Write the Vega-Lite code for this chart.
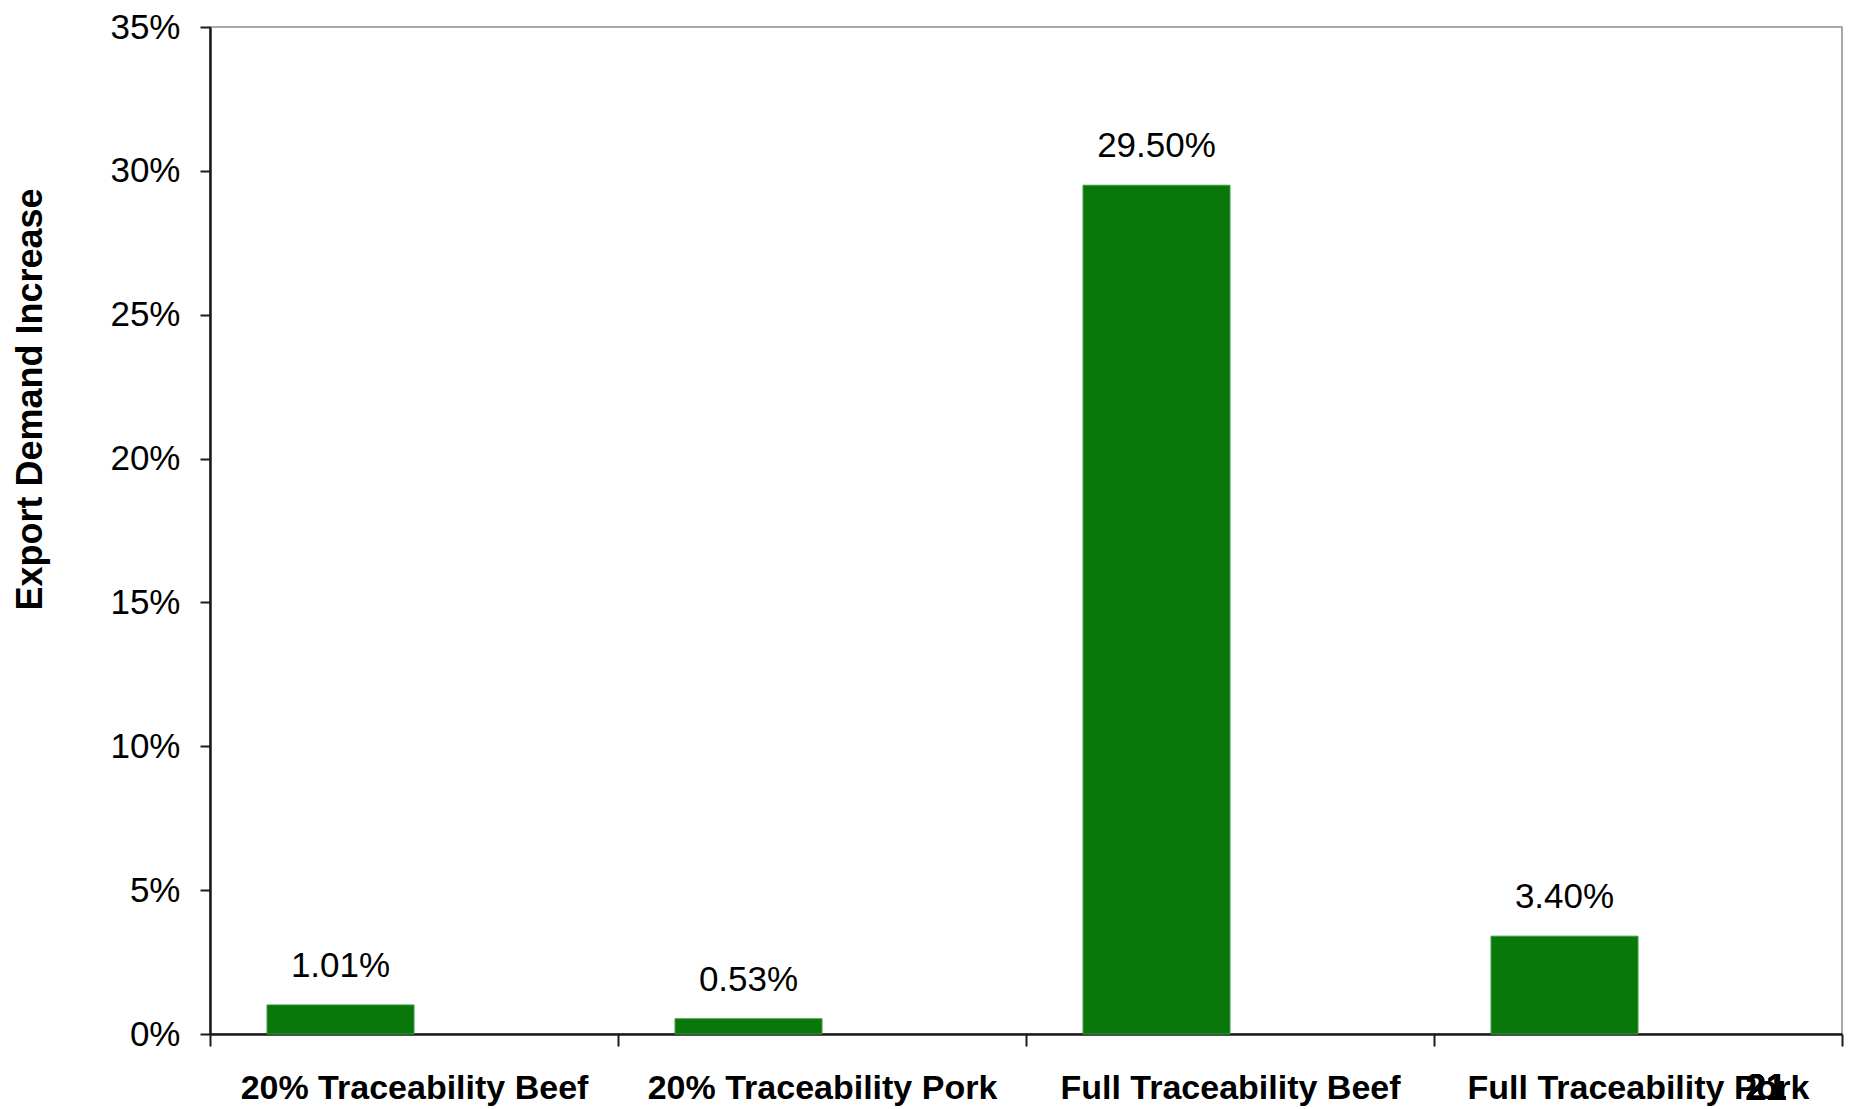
{
  "$schema": "https://vega.github.io/schema/vega-lite/v6.json",
  "width": 1632,
  "height": 1007,
  "autosize": {"type": "none"},
  "padding": {"left": 210, "top": 27, "right": 7, "bottom": 75},
  "background": "white",
  "config": {
    "font": "Liberation Sans",
    "view": {"stroke": "#8c8c8c", "strokeWidth": 1.5}
  },
  "data": {
    "values": [
      {"scenario": "20% Traceability Beef", "increase": 0.0101, "series": "a"},
      {"scenario": "20% Traceability Pork", "increase": 0.0053, "series": "a"},
      {"scenario": "Full Traceability Beef", "increase": 0.295, "series": "a"},
      {"scenario": "Full Traceability Pork", "increase": 0.034, "series": "a"}
    ]
  },
  "encoding": {
    "x": {
      "field": "scenario",
      "type": "nominal",
      "sort": null,
      "scale": {"paddingInner": 0, "paddingOuter": 0},
      "axis": {
        "title": null,
        "labelAngle": 0,
        "labelFontSize": 34,
        "labelFontWeight": "bold",
        "labelColor": "#000000",
        "labelLimit": 0,
        "labelPadding": 25,
        "tickBand": "extent",
        "tickSize": 12,
        "tickWidth": 2,
        "tickColor": "#1a1a1a",
        "domainColor": "#1a1a1a",
        "domainWidth": 2.5,
        "grid": false
      }
    },
    "xOffset": {
      "field": "series",
      "type": "nominal",
      "scale": {"domain": ["a", "b"], "paddingInner": 0, "paddingOuter": 0.388}
    },
    "y": {
      "field": "increase",
      "type": "quantitative",
      "scale": {"domain": [0, 0.35], "nice": false},
      "axis": {
        "title": "Export Demand Increase",
        "titleFontSize": 36,
        "titleFontWeight": "bold",
        "titleColor": "#000000",
        "titleX": -180,
        "titleY": 372,
        "titleBaseline": "middle",
        "titleAngle": 270,
        "values": [0, 0.05, 0.1, 0.15, 0.2, 0.25, 0.3, 0.35],
        "format": ".0%",
        "labelFontSize": 35,
        "labelColor": "#000000",
        "labelPadding": 20,
        "tickSize": 10,
        "tickWidth": 2,
        "tickColor": "#1a1a1a",
        "domainColor": "#1a1a1a",
        "domainWidth": 2.5,
        "grid": false
      }
    }
  },
  "layer": [
    {
      "mark": {"type": "bar", "color": "#08780b", "stroke": "#3c9a3c", "strokeWidth": 1}
    },
    {
      "mark": {"type": "text", "fontSize": 35, "baseline": "alphabetic", "align": "center", "dy": -28, "color": "#000000"},
      "encoding": {
        "text": {"field": "increase", "type": "quantitative", "format": ".2%"}
      }
    },
    {
      "mark": {"type": "text", "fontSize": 37, "fontWeight": "bold", "baseline": "alphabetic", "align": "center", "dx": 332, "dy": 66, "color": "#000000"},
      "encoding": {
        "x": {"datum": "Full Traceability Pork", "type": "nominal"},
        "xOffset": {"value": 0},
        "y": {"datum": 0, "type": "quantitative"},
        "text": {"value": "21"}
      }
    }
  ]
}
